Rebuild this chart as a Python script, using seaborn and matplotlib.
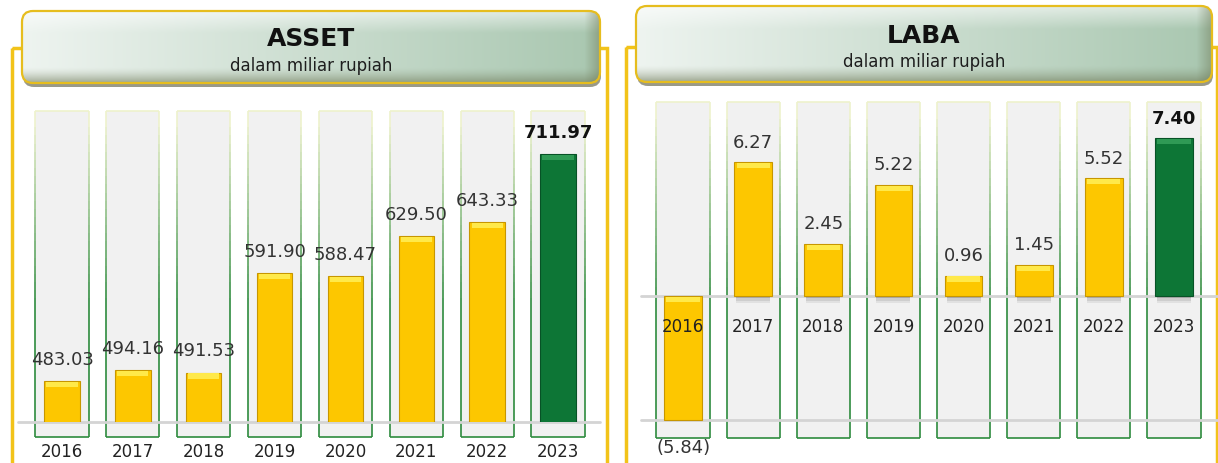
import numpy as np
import pandas as pd
import matplotlib
matplotlib.use("Agg")
import matplotlib.pyplot as plt
import seaborn as sns
import matplotlib.colors as mcolors
from matplotlib.patches import FancyBboxPatch, Rectangle
from matplotlib.collections import LineCollection

# ── data ──────────────────────────────────────────────────────────────────────
years = ["2016", "2017", "2018", "2019", "2020", "2021", "2022", "2023"]
asset_values = [483.03, 494.16, 491.53, 591.90, 588.47, 629.50, 643.33, 711.97]
laba_values = [-5.84, 6.27, 2.45, 5.22, 0.96, 1.45, 5.52, 7.40]

W, H = 1218, 464
GOLD, GOLD_EDGE, GOLD_TOP = "#fdc700", "#c79600", "#ffe94a"
GREEN, GREEN_EDGE, GREEN_TOP = "#0d7636", "#075226", "#2f9a55"
SLOT = "#f1f1f1"
FRAME = "#f2c31a"

sns.set_style("white")
plt.rcParams["font.family"] = ["DejaVu Sans"]

fig = plt.figure(figsize=(W / 100, H / 100), dpi=100)
fig.patch.set_facecolor("white")

bg = fig.add_axes([0, 0, 1, 1], zorder=0)
bg.set_xlim(0, W)
bg.set_ylim(H, 0)
bg.axis("off")


def px_axes(x0, y0, x1, y1):
    a = fig.add_axes([x0 / W, 1 - y1 / H, (x1 - x0) / W, (y1 - y0) / H], zorder=2)
    a.patch.set_alpha(0)
    return a


def title_box(x0, y0, x1, y1, title, sub, ty, sy):
    sh = FancyBboxPatch((x0 + 1, y0 + 4), x1 - x0, y1 - y0,
                        boxstyle="round,pad=0,rounding_size=11",
                        fc="#55553a", ec="none", alpha=0.6, zorder=2)
    bg.add_patch(sh)
    box = FancyBboxPatch((x0, y0), x1 - x0, y1 - y0,
                         boxstyle="round,pad=0,rounding_size=11",
                         fc="none", ec="#e6bd1e", lw=1.6, zorder=4)
    bg.add_patch(box)
    left = np.array(mcolors.to_rgb("#eef4f0"))
    right = np.array(mcolors.to_rgb("#a9c7b0"))
    nx, ny = 240, 80
    tx = np.linspace(0, 1, nx)[None, :, None]
    grad = left * (1 - tx) + right * tx
    grad = np.repeat(grad, ny, axis=0)
    ty_ = np.linspace(0, 1, ny)[:, None, None]
    white = np.ones(3)
    dark = np.array(mcolors.to_rgb("#6f7a58"))
    top_w = np.clip((0.3 - ty_) / 0.3, 0, 1) * 0.6
    bot_w = np.clip((ty_ - 0.78) / 0.22, 0, 1) ** 1.5 * 0.6
    grad = grad * (1 - top_w) + white * top_w
    grad = grad * (1 - bot_w) + dark * bot_w
    # darker rim on the right end
    rim = np.clip((tx - 0.975) / 0.025, 0, 1) * 0.45
    grad = grad * (1 - rim) + dark * rim
    im = bg.imshow(grad, extent=(x0, x1, y1, y0), aspect="auto",
                   interpolation="bilinear", zorder=3)
    im.set_clip_path(box)
    cx = (x0 + x1) / 2
    bg.text(cx, ty, title, ha="center", va="center", fontsize=18,
            fontweight="bold", color="#111111", zorder=5)
    bg.text(cx, sy, sub, ha="center", va="center", fontsize=12,
            color="#1e1e1e", zorder=5)


def draw_slots(ax, n, width, y_lo, y_hi):
    tr = ax.get_xaxis_transform()
    green = np.array(mcolors.to_rgb("#2e8b3e"))
    pale = np.array(mcolors.to_rgb("#eef2cc"))
    ts = np.linspace(0, 1, 41)
    for i in range(n):
        xl, xr = i - width / 2, i + width / 2
        ax.add_patch(Rectangle((xl, y_lo), width, y_hi - y_lo, transform=tr,
                               fc=SLOT, ec="none", zorder=0, clip_on=False))
        segs, cols = [], []
        for k in range(len(ts) - 1):
            ya = y_lo + (y_hi - y_lo) * ts[k]
            yb = y_lo + (y_hi - y_lo) * ts[k + 1]
            f = np.clip((ts[k] - 0.4) / 0.55, 0, 1)
            c = green * (1 - f) + pale * f
            for xx in (xl, xr):
                segs.append([(xx, ya), (xx, yb)])
                cols.append(c)
        segs.append([(xl, y_lo), (xr, y_lo)])
        cols.append(green)
        segs.append([(xl, y_hi), (xr, y_hi)])
        cols.append(pale)
        ax.add_collection(LineCollection(segs, colors=cols, linewidths=1.2,
                                         transform=tr, zorder=0.5, clip_on=False))


def style_bars(ax, bars, px_per_unit, shadow=False):
    n = len(bars)
    for i, p in enumerate(bars):
        last = i == n - 1
        p.set_facecolor(GREEN if last else GOLD)
        p.set_edgecolor(GREEN_EDGE if last else GOLD_EDGE)
        p.set_linewidth(0.8)
        p.set_zorder(2)
        x, w = p.get_x(), p.get_width()
        y0, y1 = sorted([p.get_y(), p.get_y() + p.get_height()])
        hh = 6 / px_per_unit
        ax.add_patch(Rectangle((x + w * 0.06, y1 - hh), w * 0.88, hh * 0.85,
                               fc=GREEN_TOP if last else GOLD_TOP, ec="none",
                               zorder=3))
        if shadow and y0 >= 0:
            for k, a in enumerate((0.35, 0.22, 0.1)):
                ax.add_patch(Rectangle((x + w * 0.05, y0 - (k + 1) * 2.5 / px_per_unit),
                                       w * 0.9, 2.5 / px_per_unit, fc="#555555",
                                       ec="none", alpha=a, zorder=1.6))


# ── frames and headers ────────────────────────────────────────────────────────
bg.add_patch(Rectangle((12, 49), 595, 480, fill=False, ec=FRAME, lw=2.5, zorder=1))
bg.add_patch(Rectangle((626, 48), 591, 480, fill=False, ec=FRAME, lw=2.5, zorder=1))
title_box(22, 12, 600, 84, "ASSET", "dalam miliar rupiah", 39, 66)
title_box(636, 7, 1212, 83, "LABA", "dalam miliar rupiah", 36, 62)

# ── ASSET panel ───────────────────────────────────────────────────────────────
df_a = pd.DataFrame({"year": years, "value": asset_values})
axA = px_axes(26.6, 112, 593.4, 423)
pal = {y: GOLD for y in years}
pal[years[-1]] = GREEN
sns.barplot(data=df_a, x="year", y="value", hue="year", palette=pal,
            legend=False, width=0.5, ax=axA, saturation=1)
barsA = list(axA.patches)
a_ppu = 0.9915
axA.set_xlim(-0.5, len(years) - 0.5)
axA.set_ylim(441.7, 441.7 + 311 / a_ppu)
axA.axis("off")
draw_slots(axA, len(years), 0.75, -15 / 311, 1.0)
style_bars(axA, barsA, a_ppu)
axA.plot([-0.015, 1.012], [0, 0], transform=axA.transAxes, color="#d4d4d4",
         lw=2, zorder=1.5, clip_on=False)
for i, v in enumerate(asset_values):
    last = i == len(years) - 1
    axA.annotate(f"{v:.2f}", (i, v), xytext=(0, 16), textcoords="offset points",
                 ha="center", va="center", fontsize=13, color="#111" if last else "#333",
                 fontweight="bold" if last else "normal", zorder=4)
    axA.annotate(years[i], (i, axA.get_ylim()[0]), xytext=(0, -21),
                 textcoords="offset points", ha="center", va="center",
                 fontsize=12, color="#222", annotation_clip=False)

# ── LABA panel ────────────────────────────────────────────────────────────────
df_l = pd.DataFrame({"year": years, "value": laba_values})
axL = px_axes(648, 103, 1209, 439)
sns.barplot(data=df_l, x="year", y="value", hue="year", palette=pal,
            legend=False, width=0.54, ax=axL, saturation=1)
barsL = list(axL.patches)
l_ppu = 21.3
axL.set_xlim(-0.5, len(years) - 0.5)
axL.set_ylim(-(439 - 297) / l_ppu, (297 - 103) / l_ppu)
axL.axis("off")
draw_slots(axL, len(years), 0.76, 0.0, 1.0)
style_bars(axL, barsL, l_ppu, shadow=True)
for yv in (0, min(laba_values)):
    axL.plot([-0.6, 8.0], [yv, yv], color="#d4d4d4", lw=2, zorder=1.5, clip_on=False)
for i, v in enumerate(laba_values):
    last = i == len(years) - 1
    txt = f"({abs(v):.2f})" if v < 0 else f"{v:.2f}"
    off = -19 if v < 0 else 15
    axL.annotate(txt, (i, v), xytext=(0, off), textcoords="offset points",
                 ha="center", va="center", fontsize=13, color="#111" if last else "#333",
                 fontweight="bold" if last else "normal", zorder=4,
                 annotation_clip=False)
    axL.annotate(years[i], (i, 0), xytext=(0, -21.5), textcoords="offset points",
                 ha="center", va="center", fontsize=12, color="#222", zorder=4)

fig.savefig("out.png", dpi=100)
